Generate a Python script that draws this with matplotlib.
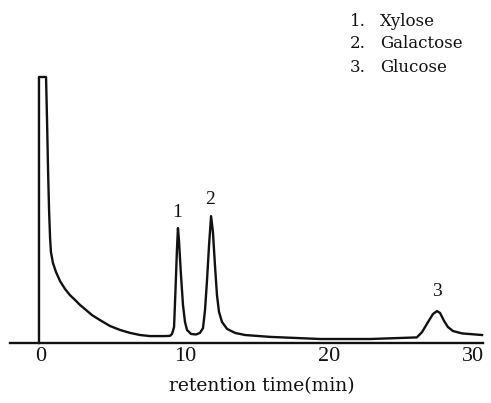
import numpy as np
import matplotlib.pyplot as plt

# Chromatogram trace (time in min, relative detector signal)
time_min = [-0.14, -0.14, 0.35, 0.42, 0.49, 0.56, 0.63, 0.69, 0.83, 1.04, 1.32,
            1.67, 2.01, 2.36, 2.71, 3.13, 3.54, 4.10, 4.79, 5.49, 6.18, 6.88,
            7.57, 8.61, 8.96,
            9.10, 9.24, 9.34, 9.44, 9.51, 9.58, 9.72, 9.86, 10.0, 10.14, 10.42,
            10.76, 11.04, 11.25, 11.39, 11.53, 11.67, 11.81, 11.94, 12.08, 12.22,
            12.36, 12.57, 12.92, 13.47, 14.17, 15.9, 19.4, 22.85,
            26.1, 26.46, 26.88, 27.22, 27.5, 27.71, 27.99, 28.26, 28.61, 29.24, 30.63]
signal = [0.0, 100.0, 100.0, 83.5, 65.0, 50.0, 39.5, 34.2, 30.1, 26.7, 23.3,
          20.3, 18.0, 16.2, 14.3, 12.4, 10.5, 8.6, 6.4, 4.9, 3.8, 3.0,
          2.6, 2.6, 2.7,
          3.4, 6.0, 19.9, 35.0, 43.2, 38.7, 25.6, 14.3, 7.9, 4.9, 3.4,
          3.2, 3.8, 5.6, 12.4, 23.7, 36.8, 47.7, 41.7, 29.3, 18.0,
          11.7, 7.9, 5.3, 3.8, 3.0, 2.3, 1.5, 1.5,
          2.1, 4.1, 7.9, 10.9, 12.0, 11.3, 8.3, 6.0, 4.5, 3.6, 3.0]

# peak numbers and where they sit
peak_ids = ["1", "2", "3"]
peak_label_t = [9.44, 11.74, 27.5]
peak_label_s = [48.9, 53.8, 19.2]

compounds = ["Xylose", "Galactose", "Glucose"]
tick_vals = [0, 10, 20, 30]

fig = plt.figure(figsize=(4.91, 4.03), dpi=100)
ax = fig.add_axes([0, 0, 1, 1])
ax.set_xlim(-41 / 14.4, 450 / 14.4)
ax.set_ylim(-60 / 2.66, 343 / 2.66)

ax.plot(time_min, signal, color="#111111", lw=1.7, solid_joinstyle="round")

for lab, t, s in zip(peak_ids, peak_label_t, peak_label_s):
    ax.text(t, s, lab, ha="center", va="center", fontsize=14,
            family="Liberation Serif", color="#111111")

# baseline axis with tick labels only
for side in ["top", "left", "right"]:
    ax.spines[side].set_visible(False)
ax.spines["bottom"].set_position(("data", 0))
ax.spines["bottom"].set_bounds(-31 / 14.4, 442 / 14.4)
ax.spines["bottom"].set_linewidth(1.7)
ax.spines["bottom"].set_color("#111111")
ax.set_yticks([])
ax.set_xticks(tick_vals)
ax.set_xticklabels([str(v) for v in tick_vals], family="Liberation Serif",
                   fontsize=16, color="#111111")
ax.tick_params(axis="x", length=0, pad=3)

fig.text(262 / 491, 1 - 386 / 403, "retention time(min)", ha="center", va="center",
         fontsize=13.5, family="DejaVu Serif", color="#111111")

for i, name in enumerate(compounds):
    y = 1 - (21 + 23 * i) / 403
    fig.text(350 / 491, y, f"{i + 1}.", ha="left", va="center", fontsize=12,
             family="DejaVu Serif", color="#111111")
    fig.text(380 / 491, y, name, ha="left", va="center", fontsize=12,
             family="DejaVu Serif", color="#111111")

fig.savefig("out.png", dpi=100)
